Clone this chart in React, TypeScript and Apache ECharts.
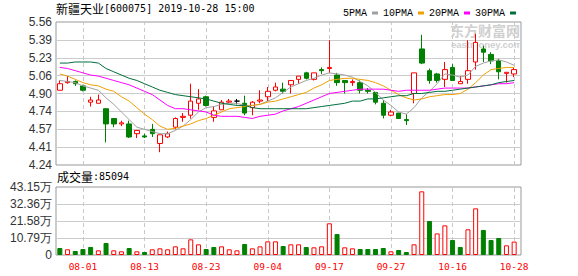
import React, { useEffect, useRef } from 'react';
import * as echarts from 'echarts';

const stockName = '新疆天业';
const stockInfo = '[600075] 2019-10-28 15:00';
const volumeTitle = '成交量';

const dates = [
  '07-29', '07-30', '07-31', '08-01', '08-02', '08-05', '08-06', '08-07', '08-08', '08-09',
  '08-12', '08-13', '08-14', '08-15', '08-16', '08-19', '08-20', '08-21', '08-22', '08-23',
  '08-26', '08-27', '08-28', '08-29', '08-30', '09-02', '09-03', '09-04', '09-05', '09-06',
  '09-09', '09-10', '09-11', '09-12', '09-16', '09-17', '09-18', '09-19', '09-20', '09-23',
  '09-24', '09-25', '09-26', '09-27', '09-30', '10-08', '10-09', '10-10', '10-11', '10-14',
  '10-15', '10-16', '10-17', '10-18', '10-21', '10-22', '10-23', '10-24', '10-25', '10-28',
];
const tickDates = ['08-01', '08-13', '08-23', '09-04', '09-17', '09-27', '10-16', '10-28'];

const opens = [
  4.93, 5.0, 5.01, 4.97, 4.82, 4.81, 4.76, 4.67, 4.62, 4.62,
  4.53, 4.51, 4.57, 4.44, 4.5, 4.59, 4.68, 4.7, 4.81, 4.87,
  4.68, 4.75, 4.82, 4.83, 4.81, 4.77, 4.83, 4.87, 4.93, 4.94,
  4.98, 5.03, 5.09, 5.03, 5.12, 5.13, 5.07, 5.02, 5.0, 5.0,
  4.93, 4.91, 4.81, 4.7, 4.72, 4.66, 4.9, 5.31, 5.11, 5.08,
  5.03, 5.14, 4.99, 5.03, 5.19, 5.31, 5.26, 5.2, 5.085, 5.08,
];
const closes = [
  4.99, 5.01, 4.99, 4.93, 4.84, 4.84, 4.62, 4.62, 4.63, 4.5,
  4.56, 4.5, 4.53, 4.52, 4.53, 4.67, 4.69, 4.83, 4.85, 4.79,
  4.74, 4.82, 4.83, 4.83, 4.72, 4.82, 4.84, 4.92, 4.96, 4.92,
  5.02, 5.06, 5.04, 5.09, 5.11, 5.14, 5.0, 5.0, 5.01, 4.93,
  4.92, 4.82, 4.7, 4.73, 4.67, 4.65, 5.09, 5.18, 5.02, 5.02,
  5.12, 5.02, 5.01, 5.11, 5.37, 5.28, 5.2, 5.1, 5.095, 5.12,
];
const lows = [
  4.93, 4.99, 4.97, 4.92, 4.78, 4.81, 4.45, 4.59, 4.6, 4.49,
  4.49, 4.49, 4.5, 4.36, 4.49, 4.57, 4.64, 4.67, 4.75, 4.78,
  4.64, 4.75, 4.81, 4.8, 4.7, 4.7, 4.81, 4.83, 4.92, 4.9,
  4.9, 4.99, 5.03, 5.02, 5.08, 5.09, 4.97, 4.9, 4.97, 4.9,
  4.9, 4.8, 4.67, 4.69, 4.67, 4.61, 4.81, 5.17, 4.99, 5.0,
  4.96, 5.02, 4.99, 4.99, 5.12, 5.19, 5.17, 5.03, 5.0, 5.05,
];
const highs = [
  5.02, 5.06, 5.02, 4.98, 4.87, 4.89, 4.76, 4.67, 4.65, 4.65,
  4.56, 4.53, 4.62, 4.52, 4.55, 4.68, 4.72, 4.99, 4.94, 4.88,
  4.78, 4.84, 4.85, 4.85, 4.88, 4.83, 4.93, 4.96, 5.0, 5.0,
  5.02, 5.06, 5.1, 5.09, 5.14, 5.39, 5.09, 5.02, 5.03, 5.02,
  4.95, 4.91, 4.84, 4.75, 4.72, 4.71, 5.09, 5.44, 5.13, 5.09,
  5.19, 5.17, 5.06, 5.39, 5.45, 5.34, 5.28, 5.22, 5.095, 5.14,
];

const ma5 = [
  5.02, 5.01, 5.0, 4.97, 4.95, 4.93, 4.86, 4.8, 4.73, 4.66,
  4.59, 4.57, 4.55, 4.53, 4.53, 4.56, 4.6, 4.66, 4.73, 4.77,
  4.78, 4.8, 4.81, 4.81, 4.79, 4.79, 4.8, 4.83, 4.86, 4.91,
  4.96, 4.99, 5.02, 5.04, 5.07, 5.09, 5.08, 5.07, 5.05, 5.01,
  4.97, 4.91, 4.84, 4.79, 4.73, 4.71, 4.77, 4.86, 4.92, 4.99,
  5.08, 5.07, 5.05, 5.07, 5.15, 5.18, 5.2, 5.21, 5.19, 5.16,
];
const ma10 = [
  5.08, 5.06, 5.03, 5.0, 4.98, 4.97, 4.94, 4.92, 4.87, 4.83,
  4.77, 4.71, 4.66, 4.6, 4.57, 4.58, 4.6, 4.62, 4.65, 4.67,
  4.7, 4.73, 4.76, 4.77, 4.78, 4.79, 4.8, 4.82, 4.83, 4.85,
  4.87, 4.89, 4.91, 4.95, 4.98, 5.02, 5.03, 5.04, 5.04, 5.03,
  5.02, 5.0, 4.97, 4.93, 4.89, 4.86, 4.84, 4.85, 4.87, 4.88,
  4.89, 4.89, 4.9, 4.94, 5.0, 5.07, 5.12, 5.13, 5.14, 5.14,
];
const ma20 = [
  5.14, 5.13, 5.11, 5.09, 5.07, 5.06, 5.04, 5.02, 5.0, 4.98,
  4.95, 4.92, 4.89, 4.84, 4.79, 4.76, 4.76, 4.75, 4.74, 4.73,
  4.7, 4.69, 4.69, 4.69, 4.68, 4.67, 4.69, 4.7, 4.71, 4.74,
  4.76, 4.78, 4.81, 4.84, 4.87, 4.9, 4.91, 4.92, 4.93, 4.94,
  4.94, 4.94, 4.94, 4.93, 4.92, 4.93, 4.93, 4.93, 4.93, 4.94,
  4.95, 4.95, 4.95, 4.95, 4.96, 4.97, 4.98, 4.99, 4.99, 5.0,
];
const ma30 = [
  5.18, 5.18, 5.19, 5.19, 5.19, 5.18, 5.13, 5.1, 5.07, 5.04,
  5.02, 4.99, 4.96, 4.93, 4.91, 4.89, 4.88, 4.87, 4.86, 4.85,
  4.83, 4.81, 4.8, 4.79, 4.79, 4.77, 4.76, 4.76, 4.76, 4.76,
  4.76, 4.76, 4.76, 4.77, 4.78, 4.79, 4.8, 4.81, 4.83, 4.83,
  4.85, 4.85, 4.86, 4.87, 4.88, 4.88, 4.9, 4.9, 4.91, 4.92,
  4.92, 4.93, 4.94, 4.95, 4.96, 4.97, 4.98, 5.0, 5.01, 5.02,
];

const volumes = [
  44400, 36000, 25400, 38100, 50800, 29600, 76100, 29600, 23300, 44400,
  23300, 19000, 36000, 42300, 36000, 55000, 42300, 99400, 67700, 38100,
  50800, 55000, 36000, 29600, 69800, 42300, 55000, 86700, 86700, 57100,
  67700, 67700, 50800, 48600, 55000, 201000, 133000, 48600, 42300, 38100,
  38100, 38100, 44400, 23300, 31700, 19000, 67700, 404000, 216000, 137000,
  188000, 95000, 50800, 163000, 296000, 159000, 95000, 108000, 61300, 85094,
];
const volumeUp = [
  0, 1, 0, 0, 0, 1, 0, 1, 1, 0,
  1, 0, 1, 1, 1, 1, 1, 1, 1, 0,
  0, 1, 1, 1, 0, 1, 1, 1, 1, 0,
  1, 1, 0, 1, 1, 1, 0, 1, 1, 0,
  0, 0, 0, 1, 0, 0, 1, 1, 0, 1,
  1, 0, 0, 1, 1, 0, 0, 0, 1, 1,
];

const maNames = ['5PMA', '10PMA', '20PMA', '30PMA'];
const maSeries = [ma5, ma10, ma20, ma30];

const priceMin = 4.242;
const priceStep = 0.1645;
const priceSteps = 8;
const volumeStep = 107875;
const volumeSteps = 4;

const RED = '#ff0000';
const GREEN = '#008000';
const maColors = ['#a0a0a0', '#f0a000', '#ff00ff', '#006f3c'];
const MONO = '"DejaVu Sans Mono", monospace';
const SANS = '"Liberation Sans", Arial, sans-serif';
const CJK = '"Noto Sans CJK SC", sans-serif';

export default function App() {
  const ref = useRef<HTMLDivElement>(null);

  useEffect(() => {
    if (!ref.current) return;
    const chart = echarts.init(ref.current, undefined, { renderer: 'svg' });

    const L = 56;
    const frameW = 465;
    const dataW = 462;
    const pTop = 22;
    const pH = 143;
    const vTop = 187;
    const vH = 68;
    const priceMax = priceMin + priceStep * priceSteps;
    const volumeMax = volumeStep * volumeSteps;

    const frameGrid = (top: number, h: number) => ({
      left: L, top, width: frameW, height: h, show: true,
      borderColor: '#999', borderWidth: 1, backgroundColor: 'transparent',
    });
    const dataGrid = (top: number, h: number) => ({ left: L, top, width: dataW, height: h });

    const dashed = {
      silent: true,
      z: 1,
      symbol: ['none', 'none'],
      label: { show: false },
      emphasis: { disabled: true },
      lineStyle: { color: '#c8c8c8', type: [4, 3], width: 1 },
      data: tickDates.map((d) => ({ xAxis: d })),
    };

    const option: any = {
      animation: false,
      backgroundColor: '#fff',
      grid: [frameGrid(pTop, pH), dataGrid(pTop, pH), frameGrid(vTop, vH), dataGrid(vTop, vH)],
      legend: {
        data: maNames,
        left: 338,
        top: 3,
        align: 'right',
        icon: 'rect',
        itemWidth: 6,
        itemHeight: 3,
        itemGap: 5,
        selectedMode: false,
        textStyle: { fontFamily: '"Liberation Mono", monospace', fontSize: 10, color: '#000', padding: [0, 0, 0, 0] },
      },
      xAxis: [
        { type: 'value', gridIndex: 0, show: false, min: 0, max: 1 },
        {
          type: 'category', gridIndex: 1, data: dates, boundaryGap: true,
          axisLine: { show: false }, axisTick: { show: false }, axisLabel: { show: false }, splitLine: { show: false },
        },
        { type: 'value', gridIndex: 2, show: false, min: 0, max: 1 },
        {
          type: 'category', gridIndex: 3, data: dates, boundaryGap: true,
          axisLine: { show: false }, axisTick: { show: false }, splitLine: { show: false },
          axisLabel: {
            color: RED, fontFamily: MONO, fontSize: 9.5, margin: 6,
            interval: (_i: number, v: string) => tickDates.includes(v),
          },
        },
      ],
      yAxis: [
        {
          type: 'value', gridIndex: 0, min: 0, max: priceSteps, interval: 1,
          axisLine: { show: false }, axisTick: { show: false },
          axisLabel: {
            color: '#333', fontFamily: SANS, fontSize: 12, margin: 4,
            formatter: (v: number) => (priceMin + v * priceStep).toFixed(2),
          },
          splitLine: { lineStyle: { color: '#cccccc', width: 1 }, showMinLine: false, showMaxLine: false },
        },
        { type: 'value', gridIndex: 1, min: priceMin, max: priceMax, show: false, splitLine: { show: false } },
        {
          type: 'value', gridIndex: 2, min: 0, max: volumeMax, interval: volumeStep,
          axisLine: { show: false }, axisTick: { show: false },
          axisLabel: {
            color: '#333', fontFamily: SANS, fontSize: 12, margin: 4,
            formatter: (v: number) => (v === 0 ? '0' : (Math.round(v / 100) / 100).toFixed(2) + '万'),
          },
          splitLine: { lineStyle: { color: '#cccccc', width: 1 }, showMinLine: false, showMaxLine: false },
        },
        { type: 'value', gridIndex: 3, min: 0, max: volumeMax, show: false, splitLine: { show: false } },
      ],
      series: [
        ...maSeries.map((vals, k) => ({
          name: maNames[k],
          type: 'line',
          xAxisIndex: 1,
          yAxisIndex: 1,
          data: vals,
          showSymbol: false,
          symbol: 'none',
          color: maColors[k],
          lineStyle: { color: maColors[k], width: 1 },
          z: 4,
          silent: true,
        })),
        {
          name: 'K',
          type: 'candlestick',
          xAxisIndex: 1,
          yAxisIndex: 1,
          barWidth: 5,
          z: 3,
          data: dates.map((_d, i) => [opens[i], closes[i], lows[i], highs[i]]),
          itemStyle: {
            color: '#ffffff',
            color0: GREEN,
            borderColor: RED,
            borderColor0: GREEN,
            borderColorDoji: '#000000',
            borderWidth: 1,
          },
          markLine: dashed,
        },
        {
          name: 'VOL',
          type: 'bar',
          xAxisIndex: 3,
          yAxisIndex: 3,
          barWidth: 5,
          z: 3,
          data: volumes.map((v, i) => ({
            value: v,
            itemStyle: volumeUp[i]
              ? { color: '#ffffff', borderColor: RED, borderWidth: 1 }
              : { color: GREEN, borderColor: GREEN, borderWidth: 1 },
          })),
          markLine: dashed,
        },
      ],
      graphic: [
        {
          type: 'text',
          left: L,
          top: 2,
          style: {
            text: `{cn|${stockName}}{en|${stockInfo}}`,
            rich: {
              cn: { fontFamily: CJK, fontSize: 12, fill: '#000', verticalAlign: 'middle' },
              en: { fontFamily: MONO, fontSize: 10, fill: '#000', verticalAlign: 'middle' },
            },
          },
        },
        {
          type: 'text',
          left: L + 1,
          top: 170,
          style: {
            text: `{cn|${volumeTitle}}{en|:${volumes[volumes.length - 1]}}`,
            rich: {
              cn: { fontFamily: CJK, fontSize: 12, fill: '#000', verticalAlign: 'middle' },
              en: { fontFamily: MONO, fontSize: 10, fill: '#000', verticalAlign: 'middle' },
            },
          },
        },
        {
          type: 'text',
          left: 450,
          top: 23,
          z: 0,
          style: { text: '东方财富网', fontFamily: CJK, fontSize: 14, fontWeight: 'bold', fill: '#d0d0d0' },
        },
        {
          type: 'text',
          left: 451,
          top: 39.5,
          z: 0,
          style: { text: 'eastmoney.com', fontFamily: SANS, fontSize: 9.5, fontWeight: 'bold', fill: '#d0d0d0' },
        },
      ],
    };

    chart.setOption(option);
    return () => chart.dispose();
  }, []);

  return (
    <div
      ref={ref}
      style={{ position: 'fixed', left: 0, top: 0, width: 578, height: 276, background: '#fff' }}
    />
  );
}
